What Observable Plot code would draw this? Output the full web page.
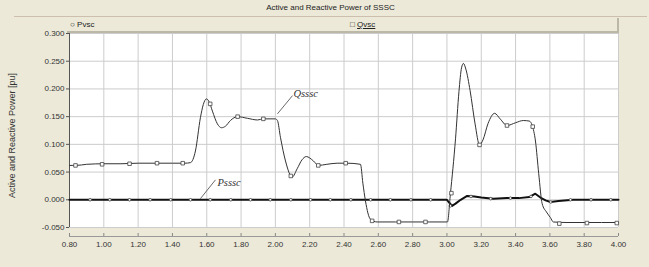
<!DOCTYPE html>
<html><head><meta charset="utf-8">
<script src="https://cdn.jsdelivr.net/npm/d3@7"></script>
<script src="https://cdn.jsdelivr.net/npm/@observablehq/plot@0.6"></script>
<style>
body{margin:0;background:#fff;}
#wrap{position:relative;width:649px;height:267px;background:#ece9d8;overflow:hidden;font-family:"Liberation Sans",Arial,sans-serif;}
#title{position:absolute;left:14px;top:0;width:633px;height:16px;border-bottom:1px solid #cdbfae;font-size:8px;text-align:center;line-height:16px;color:#222;}
#legend{position:absolute;left:67px;top:18px;width:550px;height:13px;border-right:2px solid #bcb8a8;border-bottom:2px solid #bcb8a8;font-size:8px;line-height:13px;color:#222;}
#legend span{position:absolute;top:0;}
#chart svg{position:absolute;left:0;top:0;}
</style></head>
<body><div id="wrap">
<div id="title"></div>
<div id="legend"><span id="lp" style="left:3px"></span><span id="lq" style="left:283px"></span></div>
<div id="chart"></div>
</div>
<script>
const titleText = "Active and Reactive Power of SSSC";
const legendP = "\u25CB Pvsc";
const legendQ = "Qvsc";
const yLabel = "Active and Reactive Power [pu]";

const xTicks = [0.8,1.0,1.2,1.4,1.6,1.8,2.0,2.2,2.4,2.6,2.8,3.0,3.2,3.4,3.6,3.8,4.0];
const xTickLabels = ["0.80","1.00","1.20","1.40","1.60","1.80","2.00","2.20","2.40","2.60","2.80","3.00","3.20","3.40","3.60","3.80","4.00"];
const yTicks = [-0.05,0,0.05,0.1,0.15,0.2,0.25,0.3];
const yTickLabels = ["-0.050","0.000","0.050","0.100","0.150","0.200","0.250","0.300"];

// Qsssc (reactive power)
const qTime = [0.80,0.84,0.90,1.00,1.10,1.20,1.30,1.40,1.47,1.505,1.534,1.563,1.58,1.598,1.615,1.633,1.662,1.686,1.71,1.738,1.779,1.837,1.896,1.93,2.00,2.012,2.03,2.059,2.098,2.127,2.155,2.18,2.222,2.25,2.30,2.36,2.42,2.496,2.51,2.525,2.554,2.593,2.70,2.80,2.90,3.003,3.02,3.05,3.07,3.085,3.096,3.11,3.135,3.164,3.19,3.21,3.24,3.278,3.31,3.35,3.40,3.445,3.48,3.497,3.516,3.535,3.555,3.58,3.603,3.62,3.70,3.80,3.90,4.00];
const qValue = [0.062,0.062,0.064,0.065,0.065,0.066,0.066,0.066,0.066,0.067,0.088,0.148,0.172,0.182,0.176,0.160,0.137,0.130,0.133,0.143,0.150,0.147,0.144,0.146,0.146,0.143,0.112,0.070,0.041,0.056,0.072,0.078,0.070,0.062,0.064,0.066,0.066,0.064,0.030,-0.002,-0.035,-0.040,-0.040,-0.040,-0.040,-0.040,0.010,0.110,0.195,0.238,0.246,0.236,0.197,0.137,0.099,0.108,0.138,0.156,0.146,0.134,0.139,0.143,0.142,0.134,0.106,0.047,-0.007,-0.022,-0.032,-0.040,-0.041,-0.041,-0.041,-0.041];
const qMarkTime = [0.835,0.99,1.15,1.31,1.46,1.62,1.78,1.93,2.09,2.25,2.41,2.564,2.72,2.875,3.026,3.19,3.35,3.50,3.655,3.816,3.99];
const qMarkValue = [0.062,0.064,0.065,0.066,0.066,0.173,0.150,0.146,0.043,0.062,0.066,-0.038,-0.040,-0.040,0.012,0.099,0.134,0.132,-0.043,-0.042,-0.042];

// Psssc (active power)
const pTime = [0.80,1.00,1.50,2.00,2.50,2.60,3.00,3.01,3.03,3.05,3.08,3.118,3.16,3.20,3.27,3.35,3.42,3.48,3.515,3.545,3.575,3.603,3.65,3.737,3.85,4.00];
const pValue = [0.000,0.000,0.000,0.000,0.000,0.000,0.000,-0.004,-0.011,-0.007,0.000,0.007,0.006,0.004,0.002,0.003,0.003,0.005,0.011,0.004,-0.001,-0.004,-0.002,0.000,0.000,0.000];
const pMarkTime = [0.92,1.035,1.15,1.27,1.39,1.505,1.62,1.74,1.855,1.97,2.09,2.205,2.32,2.44,2.555,2.67,2.79,2.905,3.02,3.14,3.255,3.37,3.49,3.605,3.72,3.84,3.955];
const pMarkValue = [0,0,0,0,0,0,0,0,0,0,0,0,0,0,0,0,0,0,-0.011,0.006,0.002,0.003,0.006,-0.004,0,0,0];

// annotations
const annLabels = ["Qsssc","Psssc"];
const annTextT = [2.105,1.662];
const annTextV = [0.192,0.031];
const annFromT = [2.012,1.563];
const annFromV = [0.155,0.002];
const annToT = [2.10,1.651];
const annToV = [0.188,0.036];

const qData = qTime.map((t,i)=>({t, v:qValue[i]}));
const qMarks = qMarkTime.map((t,i)=>({t, v:qMarkValue[i]}));
const pData = pTime.map((t,i)=>({t, v:pValue[i]}));
const pMarks = pMarkTime.map((t,i)=>({t, v:pMarkValue[i]}));
const ann = annLabels.map((s,i)=>({s, tt:annTextT[i], tv:annTextV[i], x1:annFromT[i], y1:annFromV[i], x2:annToT[i], y2:annToV[i]}));

document.getElementById("title").textContent = titleText;
document.getElementById("lp").textContent = legendP;
document.getElementById("lq").innerHTML = "\u25A1 <u>" + legendQ + "</u>";

const font = "Liberation Sans, Arial, sans-serif";
const chart = Plot.plot({
  width: 649, height: 267,
  marginLeft: 69, marginRight: 31, marginTop: 33, marginBottom: 40,
  style: {background: "transparent", fontFamily: font, fontSize: "8px", color: "#333"},
  x: {domain: [0.8, 4.0]},
  y: {domain: [-0.05, 0.30]},
  marks: [
    Plot.frame({fill: "white", stroke: "none"}),
    Plot.gridX(xTicks, {stroke: "#cccccc", strokeOpacity: 1}),
    Plot.gridY(yTicks, {stroke: "#cccccc", strokeOpacity: 1}),
    Plot.ruleX([0.8], {stroke: "#555"}),
    Plot.ruleY([-0.05], {dy: 9, stroke: "#999"}),
    Plot.axisY(yTicks, {tickSize: 3, tickPadding: 2, stroke: "#555",
      tickFormat: d => yTickLabels[yTicks.indexOf(d)], label: null}),
    Plot.text([yLabel], {frameAnchor: "left", textAnchor: "middle", rotate: -90, dx: -57, dy: 5, text: d => d, fontSize: 9, fill: "#333"}),
    Plot.axisX(xTicks, {anchor: "bottom", tickSize: 3, dy: 6, tickPadding: 5, stroke: "#888",
      tickFormat: d => xTickLabels[xTicks.indexOf(d)], label: null}),
    Plot.line(pData, {x: "t", y: "v", stroke: "#111", strokeWidth: 2}),
    Plot.dot(pMarks, {x: "t", y: "v", r: 1.3, stroke: "#444", strokeWidth: 0.8, fill: "white"}),
    Plot.line(qData, {x: "t", y: "v", stroke: "#333", strokeWidth: 1, curve: "monotone-x"}),
    Plot.dot(qMarks, {x: "t", y: "v", r: 2, symbol: "square", stroke: "#444", strokeWidth: 0.8, fill: "white"}),
    Plot.link(ann, {x1: "x1", y1: "y1", x2: "x2", y2: "y2", stroke: "#444", strokeWidth: 0.8}),
    Plot.text(ann, {x: "tt", y: "tv", text: "s", textAnchor: "start", fontFamily: "Liberation Serif, serif", fontStyle: "italic", fontSize: 10.5, fill: "#333"})
  ]
});
document.getElementById("chart").appendChild(chart);
</script>
</body></html>
